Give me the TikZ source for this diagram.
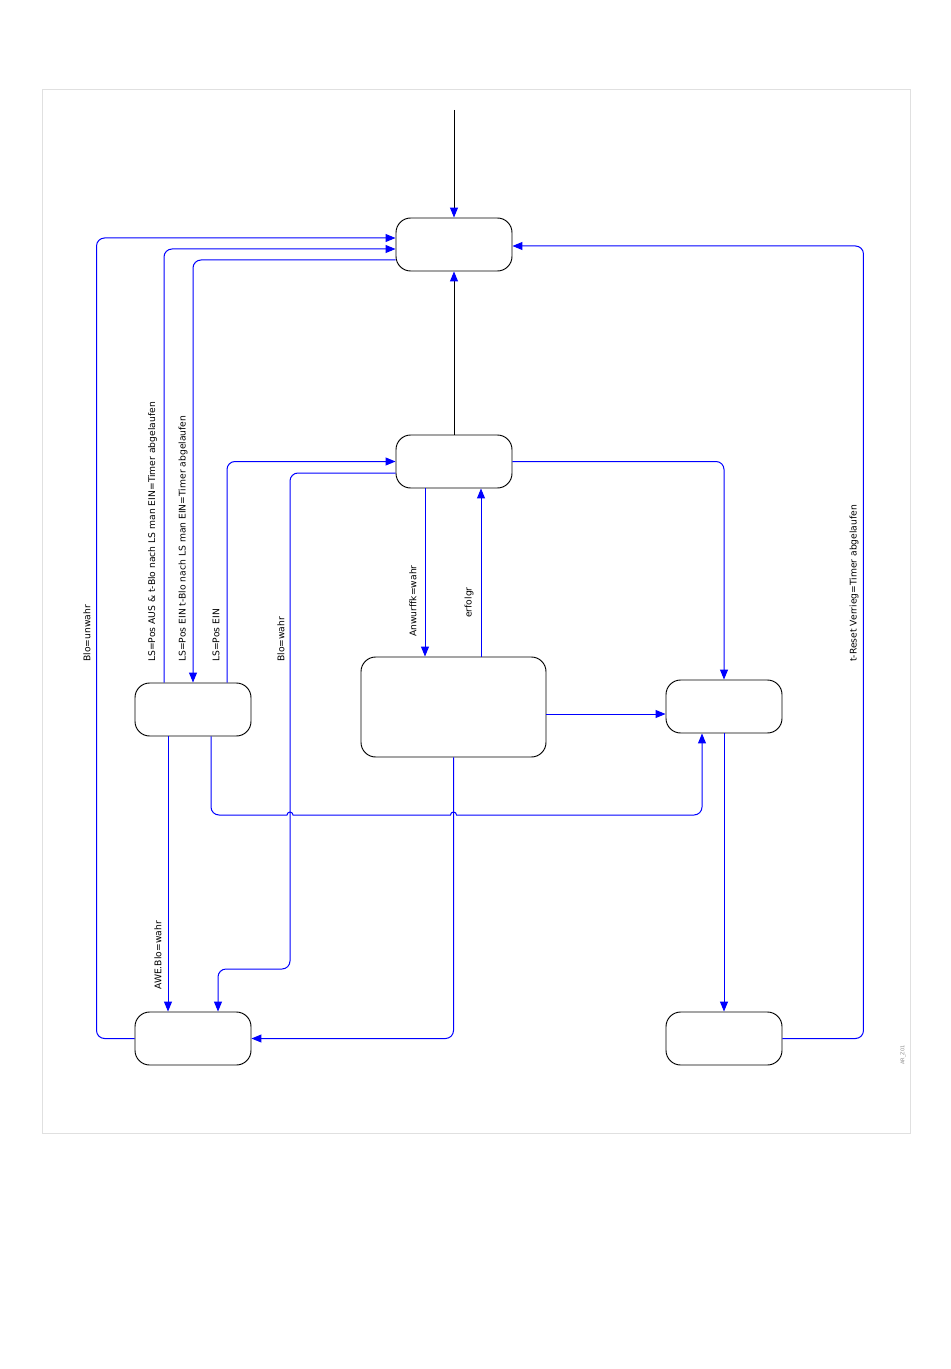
\documentclass[tikz,border=0pt]{standalone}
\usepackage{fontspec}
\setmainfont{DejaVu Sans}
\usetikzlibrary{arrows.meta,calc}
\begin{document}
\begin{tikzpicture}[x=0.75pt,y=-0.75pt,
  state/.style={draw=black,line width=0.7pt,rounded corners=11pt,minimum width=87pt,minimum height=39.75pt,inner sep=0pt},
  bigstate/.style={state,minimum width=138.75pt,minimum height=75pt},
  tip/.style={-{Triangle[length=7.5pt,width=6pt,color=blue]}},
  bl/.style={draw=blue,line width=0.75pt,rounded corners=6pt,tip},
  ln/.style={draw=black,line width=0.75pt,tip},
  lab/.style={rotate=90,anchor=west,inner sep=0pt,font=\fontsize{6.9}{8}\selectfont}
]
\useasboundingbox (0,0) rectangle (950,1369);
\draw[black!12,line width=0.75pt] (42,90) rectangle (910,1133);

% states
\node[state] (A) at (454,244.5) {};
\node[state] (B) at (454,461.5) {};
\node[bigstate] (C) at (453.5,707) {};
\node[state] (D) at (724,706.5) {};
\node[state] (E) at (193,709.5) {};
\node[state] (F) at (193,1038.5) {};
\node[state] (G) at (724,1038.5) {};

% entry
\coordinate (start) at (454,110);
\draw[ln] (start) -- (A.north);
% B -> A
\draw[ln] (B.north) -- (A.south);
% B -> C
\coordinate (p2) at ($(B.south)+(-29,0)$);
\draw[bl] (p2) -- (p2 |- C.north);
% C -> B
\coordinate (p3) at ($(C.north)+(27.5,0)$);
\draw[bl] (p3) -- (p3 |- B.south);
% B -> D
\draw[bl] (B.east) -| (D.north);
% C -> D
\coordinate (p5) at ($(C.east)+(0,7)$);
\draw[bl] (p5) -- (p5 -| D.west);
% C -> F
\draw[bl] (C.south) |- (F.east);
% B -> F
\coordinate (p7) at ($(B.west)+(0,11.5)$);
\coordinate (k7) at (290,969);
\coordinate (p7e) at ($(F.north)+(25,0)$);
\draw[bl] (p7) -| (k7) -| (p7e);
% E -> B
\coordinate (p8) at ($(E.north)+(34,0)$);
\draw[bl] (p8) |- (B.west);
% A -> E
\coordinate (p9) at ($(A.west)+(0,15.5)$);
\draw[bl] (p9) -| (E.north);
% E -> A
\coordinate (p10s) at ($(E.north)+(-29,0)$);
\coordinate (p10e) at ($(A.west)+(0,4.5)$);
\draw[bl] (p10s) |- (p10e);
% F -> A
\coordinate (p11e) at ($(A.west)+(0,-6.5)$);
\draw[bl] (F.west) -- ++(-38,0) |- (p11e);
% E -> F
\coordinate (p12) at ($(E.south)+(-25,0)$);
\draw[bl] (p12) -- (p12 |- F.north);
% E -> D (with hops)
\coordinate (p13s) at ($(E.south)+(18,0)$);
\coordinate (p13e) at ($(D.south)+(-22,0)$);
\coordinate (c1) at (211,807);
\coordinate (h1) at (287,815);
\coordinate (h2) at (450.5,815);
\coordinate (c2) at (694,815);
\draw[bl,sharp corners] (p13s) -- (c1) arc[start angle=180,end angle=270,radius=6pt] -- (h1)
  arc[start angle=180,end angle=0,radius=2.25pt] -- (h2)
  arc[start angle=180,end angle=0,radius=2.25pt] -- (c2)
  arc[start angle=270,end angle=360,radius=6pt] -- (p13e);
% D -> G
\draw[bl] (D.south) -- (G.north);
% G -> A
\coordinate (p15e) at ($(A.east)+(0,1.5)$);
\draw[bl] (G.east) -- ++(81,0) |- (p15e);

% labels
\node[lab] (l1) at (87,662) {Blo=unwahr};
\node[lab] (l2) at (152.5,662) {LS=Pos AUS \& t-Blo nach LS man EIN=Timer abgelaufen};
\node[lab] (l3) at (183,662) {LS=Pos EIN t-Blo nach LS man EIN=Timer abgelaufen};
\node[lab] (l4) at (216,662) {LS=Pos EIN};
\node[lab] (l5) at (281,662) {Blo=wahr};
\node[lab] (l6) at (413,637) {Anwurffk=wahr};
\node[lab] (l7) at (469,618) {erfolgr};
\node[lab] (l8) at (854,662) {t-Reset Verrieg=Timer abgelaufen};
\node[lab] (l9) at (158,990) {AWE.Blo=wahr};
\node[lab,font=\fontsize{3.8}{4}\selectfont,text=black!45] (l10) at (903,1065) {AR\_Z01};
\end{tikzpicture}
\end{document}
